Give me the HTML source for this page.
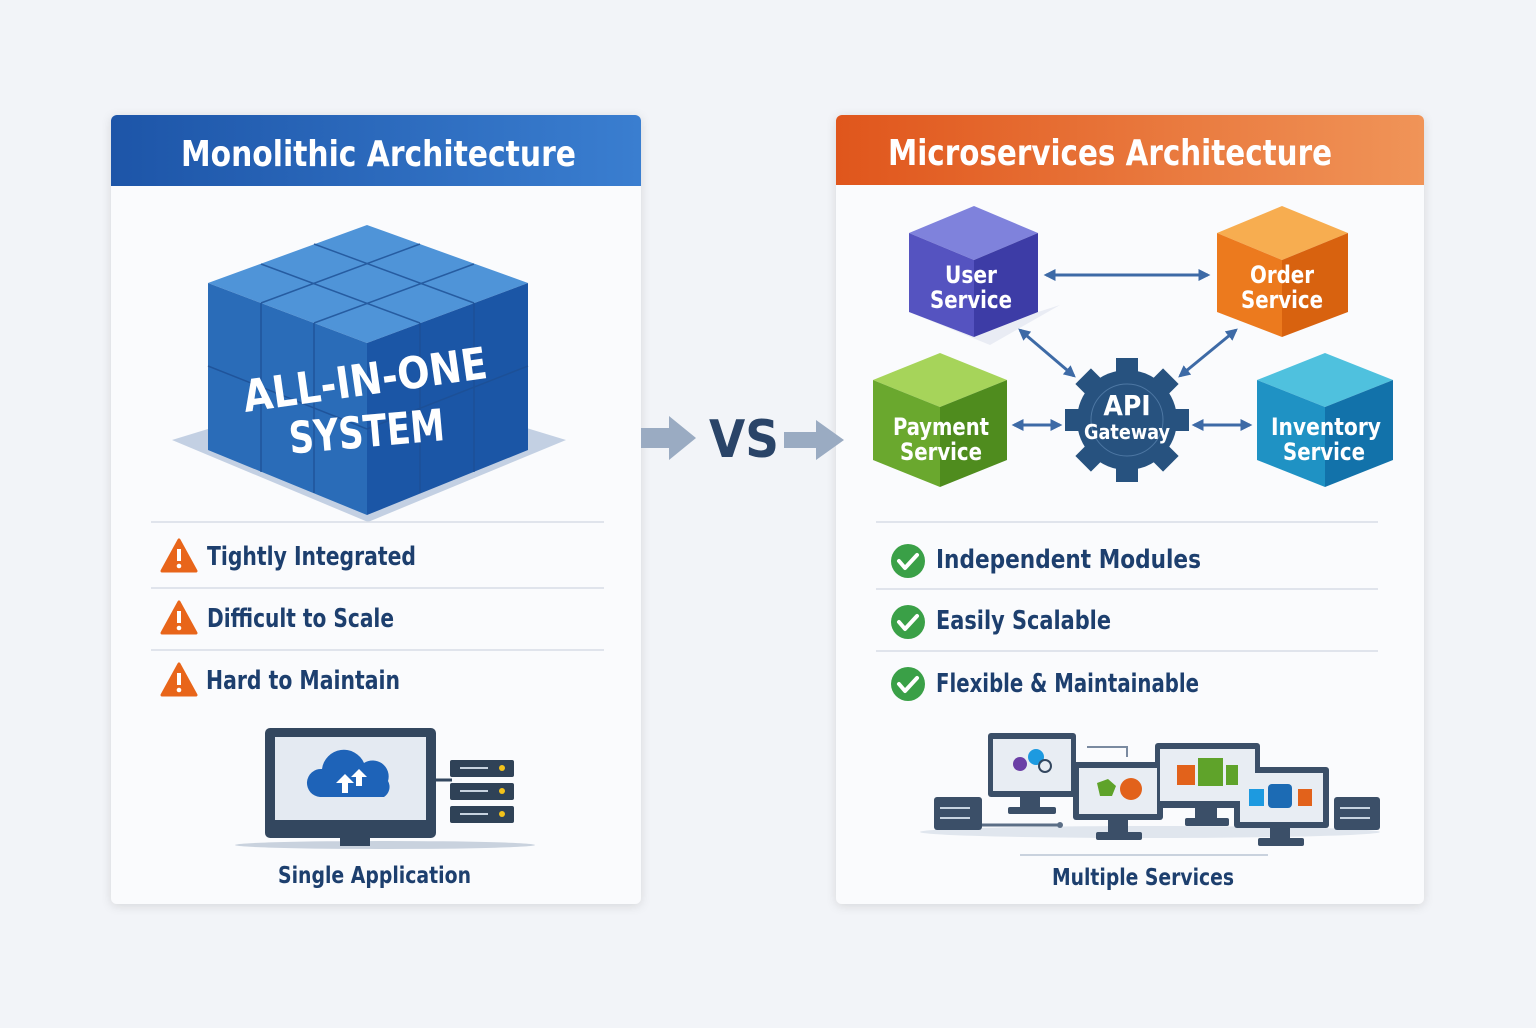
<!DOCTYPE html>
<html><head><meta charset="utf-8"><style>
body{margin:0;width:1536px;height:1024px;background:#f2f4f8;font-family:"DejaVu Sans Condensed","Liberation Sans",sans-serif;overflow:hidden}
</style></head><body>
<svg width="1536" height="1024" viewBox="0 0 1536 1024" xmlns="http://www.w3.org/2000/svg" font-family="'DejaVu Sans Condensed','DejaVu Sans','Liberation Sans',sans-serif" font-weight="bold">
<defs>
<linearGradient id="hb" x1="0" x2="1"><stop offset="0" stop-color="#1d55a8"/><stop offset="1" stop-color="#3a7ed0"/></linearGradient>
<linearGradient id="ho" x1="0" x2="1"><stop offset="0" stop-color="#e0561c"/><stop offset="1" stop-color="#f09458"/></linearGradient>
<filter id="sh" x="-10%" y="-10%" width="120%" height="120%"><feDropShadow dx="0" dy="2" stdDeviation="5" flood-color="#000" flood-opacity="0.12"/></filter>
<marker id="ah" viewBox="0 0 10 10" refX="8" refY="5" markerWidth="4" markerHeight="4" orient="auto-start-reverse"><path d="M0,0L10,5L0,10z" fill="#3d6aa6"/></marker>
</defs>
<rect x="111" y="115" width="530" height="789" rx="6" fill="#fafbfd" filter="url(#sh)"/>
<path d="M117,115H635a6,6 0 0 1 6,6V186H111V121a6,6 0 0 1 6,-6z" fill="url(#hb)"/>
<text x="181" y="166" font-size="36" fill="#fff" textLength="395" lengthAdjust="spacingAndGlyphs">Monolithic Architecture</text>
<rect x="836" y="115" width="588" height="789" rx="6" fill="#fafbfd" filter="url(#sh)"/>
<path d="M842,115H1418a6,6 0 0 1 6,6V185H836V121a6,6 0 0 1 6,-6z" fill="url(#ho)"/>
<text x="888" y="165" font-size="36" fill="#fff" textLength="444" lengthAdjust="spacingAndGlyphs">Microservices Architecture</text>
<polygon points="172,440 368,522 566,440 368,380" fill="#b5c6dc" opacity="0.8"/>
<polygon points="208,283 367,225 528,283 367,343" fill="#4f94d8"/>
<polygon points="208,283 367,343 367,515 208,450" fill="#2a6cb8"/>
<polygon points="367,343 528,283 528,450 367,515" fill="#1b56a6"/>
<g stroke="#1d4f94" stroke-width="1.5" opacity="0.8">
<line x1="261" y1="264" x2="420" y2="323"/><line x1="314" y1="244" x2="474" y2="303"/>
<line x1="261" y1="303" x2="420" y2="244"/><line x1="314" y1="323" x2="474" y2="264"/>
<line x1="261" y1="303" x2="261" y2="472"/><line x1="314" y1="323" x2="314" y2="493"/>
<line x1="420" y1="323" x2="420" y2="493"/><line x1="474" y1="303" x2="474" y2="472"/>
<line x1="208" y1="366" x2="367" y2="429"/><line x1="367" y1="429" x2="528" y2="366"/>
</g>
<text x="242" y="395" font-size="44" fill="#fff" textLength="246" lengthAdjust="spacingAndGlyphs" transform="rotate(-8 365 380)">ALL-IN-ONE</text>
<text x="289" y="447" font-size="44" fill="#fff" textLength="156" lengthAdjust="spacingAndGlyphs" transform="rotate(-5 366 435)">SYSTEM</text>
<g stroke="#d7dde6" stroke-width="1.5"><line x1="151" y1="522" x2="604" y2="522"/><line x1="151" y1="588" x2="604" y2="588"/><line x1="151" y1="650" x2="604" y2="650"/></g>
<g font-size="26" fill="#1d3f6e" lengthAdjust="spacingAndGlyphs">
<text x="207" y="565" textLength="209" lengthAdjust="spacingAndGlyphs">Tightly Integrated</text><text x="207" y="627" textLength="187" lengthAdjust="spacingAndGlyphs">Difficult to Scale</text><text x="206" y="689" textLength="194" lengthAdjust="spacingAndGlyphs">Hard to Maintain</text></g>
<g id="warn"><polygon points="179,540 196,571 162,571" fill="#e8651a" stroke="#e8651a" stroke-width="3" stroke-linejoin="round"/><rect x="177" y="549" width="4" height="12" fill="#fff"/><circle cx="179" cy="566" r="2.3" fill="#fff"/></g>
<use href="#warn" y="62"/><use href="#warn" y="124"/>
<ellipse cx="385" cy="845" rx="150" ry="4" fill="#c9d2de"/>
<rect x="265" y="728" width="171" height="110" rx="5" fill="#33475f"/>
<rect x="275" y="737" width="151" height="83" fill="#e4eaf2"/>
<rect x="340" y="838" width="30" height="8" fill="#33475f"/>
<path d="M320,797 a14,14 0 0 1 2,-28 a22,22 0 0 1 42,-6 a16,16 0 0 1 24,18 a12,12 0 0 1 -4,16z" fill="#1e63b8"/>
<path d="M342,793v-10h-6l9,-9 9,9h-6v10z M356,786v-9h-5l8,-8 8,8h-5v9z" fill="#fff"/>
<line x1="436" y1="780" x2="452" y2="780" stroke="#33475f" stroke-width="3"/>
<g fill="#2f4257"><rect x="450" y="760" width="64" height="17" rx="2"/><rect x="450" y="783" width="64" height="17" rx="2"/><rect x="450" y="806" width="64" height="17" rx="2"/></g>
<g stroke="#c7d3e0" stroke-width="2"><line x1="460" y1="768" x2="488" y2="768"/><line x1="460" y1="791" x2="488" y2="791"/><line x1="460" y1="814" x2="488" y2="814"/></g>
<g fill="#f2c21a"><circle cx="502" cy="768" r="3"/><circle cx="502" cy="791" r="3"/><circle cx="502" cy="814" r="3"/></g>
<text x="278" y="883" font-size="23" fill="#1d3f6e" textLength="193" lengthAdjust="spacingAndGlyphs">Single Application</text>
<path d="M641,428h28v-12l27,22-27,22v-12h-28z" fill="#9aabc2"/>
<path d="M784,432h32v-12l28,20-28,20v-12h-32z" fill="#9aabc2"/>
<text x="744" y="457" font-size="52" fill="#2a4468" text-anchor="middle">VS</text>
<g font-size="24" fill="#fff" text-anchor="middle">
<polygon points="909,312 974,337 1038,312 1060,305 990,345" fill="#dde3ee" opacity="0.6"/>
<polygon points="909,233 974,206 1038,233 974,260" fill="#7f82dc"/><polygon points="909,233 974,260 974,337 909,312" fill="#5553c0"/><polygon points="974,260 1038,233 1038,312 974,337" fill="#3d3ca6"/>
<text x="971" y="283" textLength="52" lengthAdjust="spacingAndGlyphs">User</text><text x="971" y="308" textLength="82" lengthAdjust="spacingAndGlyphs">Service</text>
<polygon points="1217,233 1282,206 1348,233 1282,260" fill="#f7ad50"/><polygon points="1217,233 1282,260 1282,337 1217,312" fill="#ec7a1e"/><polygon points="1282,260 1348,233 1348,312 1282,337" fill="#d8620f"/>
<text x="1282" y="283" textLength="64" lengthAdjust="spacingAndGlyphs">Order</text><text x="1282" y="308" textLength="82" lengthAdjust="spacingAndGlyphs">Service</text>
<polygon points="873,380 940,353 1007,380 940,407" fill="#a6d45a"/><polygon points="873,380 940,407 940,487 873,460" fill="#6aa82e"/><polygon points="940,407 1007,380 1007,460 940,487" fill="#4f8c1e"/>
<text x="941" y="435" textLength="96" lengthAdjust="spacingAndGlyphs">Payment</text><text x="941" y="460" textLength="82" lengthAdjust="spacingAndGlyphs">Service</text>
<polygon points="1257,380 1325,353 1393,380 1325,407" fill="#4fc1de"/><polygon points="1257,380 1325,407 1325,487 1257,460" fill="#1f92c4"/><polygon points="1325,407 1393,380 1393,460 1325,487" fill="#1272aa"/>
<text x="1326" y="435" textLength="110" lengthAdjust="spacingAndGlyphs">Inventory</text><text x="1324" y="460" textLength="82" lengthAdjust="spacingAndGlyphs">Service</text>
</g>
<g transform="translate(1127,420)">
<circle r="50" fill="#27527f"/>
<g fill="#27527f">
<rect x="-11" y="-62" width="22" height="20"/><rect x="-11" y="-62" width="22" height="20" transform="rotate(45)"/><rect x="-11" y="-62" width="22" height="20" transform="rotate(90)"/><rect x="-11" y="-62" width="22" height="20" transform="rotate(135)"/><rect x="-11" y="-62" width="22" height="20" transform="rotate(180)"/><rect x="-11" y="-62" width="22" height="20" transform="rotate(225)"/><rect x="-11" y="-62" width="22" height="20" transform="rotate(270)"/><rect x="-11" y="-62" width="22" height="20" transform="rotate(315)"/>
</g>
<circle r="36" fill="none" stroke="#4d77a3" stroke-width="1"/>
<text y="-5" font-size="28" fill="#fff" text-anchor="middle">API</text>
<text y="19" font-size="20" fill="#fff" text-anchor="middle" textLength="86" lengthAdjust="spacingAndGlyphs">Gateway</text>
</g>
<g stroke="#3d6aa6" stroke-width="3" marker-start="url(#ah)" marker-end="url(#ah)">
<line x1="1046" y1="275" x2="1208" y2="275"/>
<line x1="1020" y1="330" x2="1074" y2="376"/>
<line x1="1236" y1="330" x2="1180" y2="376"/>
<line x1="1014" y1="425" x2="1060" y2="425"/>
<line x1="1194" y1="425" x2="1250" y2="425"/>
</g>
<g stroke="#d7dde6" stroke-width="1.5"><line x1="876" y1="522" x2="1378" y2="522"/><line x1="876" y1="589" x2="1378" y2="589"/><line x1="876" y1="651" x2="1378" y2="651"/></g>
<g font-size="26" fill="#1d3f6e"><text x="936" y="568" textLength="265" lengthAdjust="spacingAndGlyphs">Independent Modules</text><text x="936" y="629" textLength="175" lengthAdjust="spacingAndGlyphs">Easily Scalable</text><text x="936" y="692" textLength="263" lengthAdjust="spacingAndGlyphs">Flexible &amp; Maintainable</text></g>
<g id="chk"><circle cx="908" cy="561" r="17" fill="#3aa047"/><path d="M899,561l6,7 12,-13" fill="none" stroke="#fff" stroke-width="4" stroke-linecap="round" stroke-linejoin="round"/></g>
<use href="#chk" y="61"/><use href="#chk" y="123"/>
<ellipse cx="1150" cy="832" rx="230" ry="6" fill="#e0e6ee"/>
<line x1="1020" y1="855" x2="1268" y2="855" stroke="#c9d2de" stroke-width="2"/>
<line x1="980" y1="825" x2="1058" y2="825" stroke="#5b6e86" stroke-width="3"/><circle cx="1060" cy="825" r="3" fill="#5b6e86"/>
<polyline points="1087,747 1127,747 1127,757" fill="none" stroke="#7a8aa0" stroke-width="2"/>
<g fill="#3b4f68">
<rect x="934" y="797" width="48" height="33" rx="3"/><rect x="1334" y="797" width="46" height="33" rx="3"/>
<rect x="988" y="733" width="88" height="64" rx="3"/><rect x="1020" y="797" width="20" height="12"/><rect x="1008" y="807" width="48" height="7" rx="2"/>
<rect x="1155" y="743" width="105" height="65" rx="3"/><rect x="1195" y="808" width="22" height="12"/><rect x="1185" y="818" width="44" height="8" rx="2"/>
<rect x="1073" y="762" width="90" height="58" rx="3"/><rect x="1108" y="820" width="20" height="14"/><rect x="1096" y="832" width="46" height="8" rx="2"/>
<rect x="1234" y="767" width="95" height="61" rx="3"/><rect x="1270" y="828" width="20" height="12"/><rect x="1258" y="838" width="46" height="8" rx="2"/>
</g>
<g fill="#e8edf3"><rect x="993" y="739" width="78" height="52"/><rect x="1160" y="749" width="95" height="52"/><rect x="1079" y="768" width="78" height="46"/><rect x="1240" y="773" width="83" height="49"/></g>
<g stroke="#c7d3e0" stroke-width="2"><line x1="940" y1="808" x2="970" y2="808"/><line x1="940" y1="818" x2="970" y2="818"/><line x1="1340" y1="808" x2="1370" y2="808"/><line x1="1340" y1="818" x2="1370" y2="818"/></g>
<circle cx="1020" cy="764" r="7" fill="#6b3fa6"/><circle cx="1036" cy="757" r="8" fill="#1d9ae0"/><circle cx="1045" cy="766" r="6" fill="none" stroke="#33475f" stroke-width="2"/>
<polygon points="1097,783 1108,779 1116,786 1112,796 1100,796" fill="#5fa32a"/><circle cx="1131" cy="789" r="11" fill="#e2621b"/>
<rect x="1177" y="765" width="18" height="20" fill="#e2621b"/><rect x="1198" y="758" width="25" height="28" fill="#5fa32a"/><rect x="1226" y="765" width="12" height="20" fill="#5fa32a"/>
<rect x="1249" y="789" width="15" height="17" fill="#1d9ae0"/><rect x="1268" y="784" width="24" height="24" rx="4" fill="#1c6bb4"/><rect x="1298" y="789" width="14" height="17" fill="#e2621b"/>
<text x="1052" y="885" font-size="23" fill="#1d3f6e" textLength="182" lengthAdjust="spacingAndGlyphs">Multiple Services</text>
</svg>
</body></html>
